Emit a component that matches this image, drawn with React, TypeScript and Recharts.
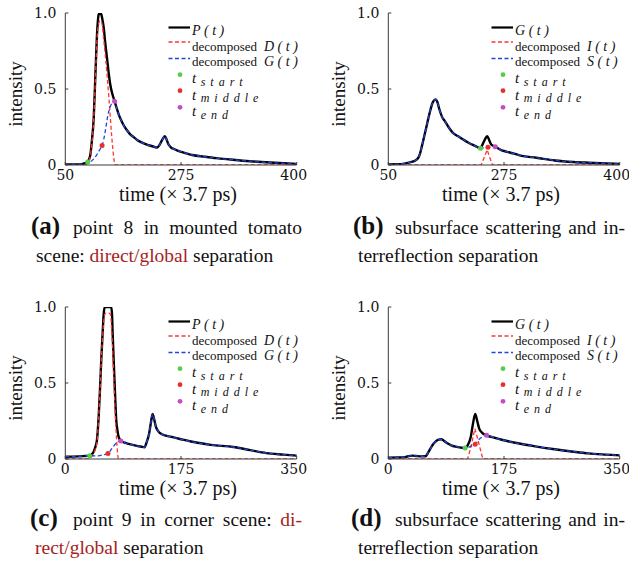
import React from 'react';
import { ComposedChart, Line, Scatter, XAxis, YAxis, Legend } from 'recharts';

// ---- (a) mounted tomato, point 8: direct / global split (time, intensity) ----
const tomatoTotal = [
  [50, 0.004], [65, 0.004], [75, 0.006], [80, 0.012], [84, 0.02], [86, 0.038], [88, 0.07],
  [90, 0.15], [93, 0.31], [95.5, 0.59], [98.5, 0.9], [100.5, 0.99], [102.5, 1.0], [104.5, 0.99],
  [106, 0.96], [108.2, 0.9], [110.5, 0.8], [113.2, 0.7], [115.5, 0.61], [118, 0.53], [121, 0.47],
  [124.5, 0.42], [128, 0.37], [131, 0.33], [135, 0.29], [138.5, 0.26], [143, 0.23], [148.5, 0.2],
  [153, 0.185], [158.6, 0.165], [167, 0.145], [176.3, 0.13], [184, 0.12], [188.9, 0.115],
  [193, 0.135], [196.5, 0.165], [200.6, 0.19], [203, 0.17], [205.6, 0.14], [210, 0.115],
  [214.2, 0.105], [220, 0.095], [226.8, 0.085], [242, 0.066], [260, 0.055], [278, 0.045],
  [300, 0.036], [329, 0.025], [360, 0.016], [400, 0.007],
];
const tomatoDirect = [
  [50, 0], [80, 0], [84, 0.012], [86, 0.03], [88, 0.062], [90, 0.14], [93, 0.3], [95.5, 0.57],
  [98.5, 0.86], [100.5, 0.93], [102.5, 0.95], [104, 0.945], [105.6, 0.93], [108, 0.83],
  [110.5, 0.72], [113.2, 0.59], [116, 0.44], [118.2, 0.31], [120, 0.2], [121.8, 0.11],
  [123.5, 0.04], [125, 0], [400, 0],
];
const tomatoGlobal = [
  [50, 0.004], [70, 0.005], [80, 0.008], [84, 0.016], [88, 0.022], [93, 0.04], [98, 0.07],
  [102, 0.1], [105.6, 0.128], [108.2, 0.17], [111.5, 0.25], [114.5, 0.33], [117, 0.37],
  [119.5, 0.4], [124.5, 0.42], [128, 0.37], [131, 0.33], [135, 0.29], [138.5, 0.26], [143, 0.23],
  [148.5, 0.2], [153, 0.185], [158.6, 0.165], [167, 0.145], [176.3, 0.13], [184, 0.12],
  [188.9, 0.115], [193, 0.135], [196.5, 0.165], [200.6, 0.19], [203, 0.17], [205.6, 0.14],
  [210, 0.115], [214.2, 0.105], [220, 0.095], [226.8, 0.085], [242, 0.066], [260, 0.055],
  [278, 0.045], [300, 0.036], [329, 0.025], [360, 0.016], [400, 0.007],
];
const tomatoMarkers = [[84, 0.02], [105.6, 0.128], [124.5, 0.42]];

// ---- (b) tomato global part: subsurface / interreflection split ----
const tomatoGlobalTotal = [
  [50, 0.004], [65, 0.005], [76, 0.011], [85, 0.02], [91, 0.03], [95, 0.045], [98, 0.075],
  [101.7, 0.14], [105.5, 0.21], [109.4, 0.285], [113, 0.35], [117, 0.41], [120, 0.428],
  [122, 0.432], [124.5, 0.41], [127, 0.37], [131, 0.32], [136, 0.285], [141, 0.25],
  [147.4, 0.213], [155, 0.19], [162.6, 0.169], [170, 0.15], [177.9, 0.132], [184, 0.12],
  [189.4, 0.11], [192, 0.13], [194.6, 0.155], [197, 0.175], [199.6, 0.19], [202.5, 0.165],
  [205.7, 0.135], [211.8, 0.12], [220, 0.1], [228.5, 0.088], [240, 0.075], [250, 0.062],
  [274, 0.048], [302, 0.03], [330, 0.02], [353, 0.015], [380, 0.01], [400, 0.007],
];
const tomatoInter = [[50, 0], [190.5, 0], [195, 0.05], [199.5, 0.1], [203, 0.055], [207.5, 0], [400, 0]];
const tomatoSub = [
  [50, 0.004], [65, 0.005], [76, 0.011], [85, 0.02], [91, 0.03], [95, 0.045], [98, 0.075],
  [101.7, 0.14], [105.5, 0.21], [109.4, 0.285], [113, 0.35], [117, 0.41], [120, 0.428],
  [122, 0.432], [124.5, 0.41], [127, 0.37], [131, 0.32], [136, 0.285], [141, 0.25],
  [147.4, 0.213], [155, 0.19], [162.6, 0.169], [170, 0.15], [177.9, 0.132], [184, 0.12],
  [189.4, 0.11], [194, 0.113], [200.7, 0.116], [206, 0.118], [211.8, 0.12], [220, 0.1],
  [228.5, 0.088], [240, 0.075], [250, 0.062], [274, 0.048], [302, 0.03], [330, 0.02],
  [353, 0.015], [380, 0.01], [400, 0.007],
];
const tomatoGlobalMarkers = [[189.4, 0.11], [200.7, 0.116], [211.8, 0.12]];

// ---- (c) corner scene, point 9: direct / global split ----
const cornerTotal = [
  [0, 0.015], [20, 0.017], [30, 0.02], [36.8, 0.022], [40, 0.03], [42.9, 0.048], [45.5, 0.08],
  [47.9, 0.125], [50.5, 0.28], [52.9, 0.5], [54.7, 0.68], [56.5, 0.83], [58, 0.95], [59.5, 1.0],
  [64, 1.0], [69.5, 1.0], [70.7, 0.95], [71.6, 0.83], [73.1, 0.66], [74.6, 0.5], [75.8, 0.37],
  [77, 0.26], [78.8, 0.19], [80.6, 0.147], [84.1, 0.119], [90, 0.107], [95.7, 0.099],
  [108.3, 0.086], [114, 0.082], [119.9, 0.077], [123, 0.11], [126.9, 0.17], [129.5, 0.24],
  [132, 0.297], [134.5, 0.26], [137, 0.213], [141, 0.18], [146.1, 0.163], [161, 0.145],
  [175, 0.13], [190, 0.115], [203, 0.105], [220, 0.093], [254, 0.079], [280, 0.058],
  [304, 0.039], [330, 0.029], [350, 0.022],
];
const cornerDirect = [
  [0, 0], [35, 0], [40, 0.015], [42.9, 0.035], [45.5, 0.065], [47.9, 0.11], [50.5, 0.27],
  [52.9, 0.49], [54.7, 0.67], [56.5, 0.81], [58.5, 0.92], [61, 0.96], [66, 0.96], [68.5, 0.95],
  [70, 0.86], [71.6, 0.72], [73.1, 0.55], [74.6, 0.39], [75.8, 0.27], [77, 0.17], [78.3, 0.08],
  [79.5, 0.02], [80.5, 0], [350, 0],
];
const cornerGlobal = [
  [0, 0.015], [20, 0.017], [30, 0.02], [36.8, 0.022], [45, 0.021], [50.4, 0.021], [55, 0.025],
  [60.4, 0.03], [64.5, 0.037], [67.5, 0.05], [70.5, 0.07], [74, 0.09], [77.5, 0.108],
  [84.1, 0.119], [90, 0.107], [95.7, 0.099], [108.3, 0.086], [114, 0.082], [119.9, 0.077],
  [123, 0.11], [126.9, 0.17], [129.5, 0.24], [132, 0.297], [134.5, 0.26], [137, 0.213],
  [141, 0.18], [146.1, 0.163], [161, 0.145], [175, 0.13], [190, 0.115], [203, 0.105],
  [220, 0.093], [254, 0.079], [280, 0.058], [304, 0.039], [330, 0.029], [350, 0.022],
];
const cornerMarkers = [[36.8, 0.022], [64.5, 0.037], [84.1, 0.119]];

// ---- (d) corner global part: subsurface / interreflection split ----
const cornerGlobalTotal = [
  [0, 0.009], [15, 0.01], [25, 0.012], [30, 0.018], [36, 0.022], [42, 0.02], [50, 0.017],
  [56.3, 0.018], [60, 0.04], [63.9, 0.07], [67.5, 0.095], [71.5, 0.114], [76, 0.127],
  [80.2, 0.13], [84, 0.12], [89.3, 0.103], [95, 0.09], [102, 0.081], [110, 0.075],
  [116.2, 0.072], [120, 0.09], [124.8, 0.147], [128, 0.23], [131.4, 0.296], [134.5, 0.25],
  [137.5, 0.2], [142, 0.172], [148.7, 0.156], [160, 0.14], [173, 0.125], [200, 0.1],
  [220, 0.085], [251.6, 0.064], [280, 0.048], [302.4, 0.037], [330, 0.029], [350, 0.024],
];
const cornerInter = [[0, 0], [120, 0], [125, 0.08], [131, 0.2], [136.5, 0.11], [143, 0], [350, 0]];
const cornerSub = [
  [0, 0.009], [15, 0.01], [25, 0.012], [30, 0.018], [36, 0.022], [42, 0.02], [50, 0.017],
  [56.3, 0.018], [60, 0.04], [63.9, 0.07], [67.5, 0.095], [71.5, 0.114], [76, 0.127],
  [80.2, 0.13], [84, 0.12], [89.3, 0.103], [95, 0.09], [102, 0.081], [110, 0.075],
  [116.2, 0.072], [122, 0.078], [127, 0.088], [131.4, 0.097], [134, 0.11], [137.5, 0.13],
  [142, 0.145], [148.7, 0.156], [160, 0.14], [173, 0.125], [200, 0.1], [220, 0.085],
  [251.6, 0.064], [280, 0.048], [302.4, 0.037], [330, 0.029], [350, 0.024],
];
const cornerGlobalMarkers = [[116.2, 0.072], [131.4, 0.097], [148.7, 0.156]];

// ---- axes ----
const tomatoXTicks = [50, 225, 400];
const tomatoXTickLabels = ['50', '275', '400'];
const cornerXTicks = [0, 175, 350];
const cornerXTickLabels = ['0', '175', '350'];
const yTicks = [0, 0.5, 1];
const yTickLabels = ['0', '0.5', '1.0'];
const markerNames = ['start', 'middle', 'end'];

const AXIS = '#3a3a3a';
const RED = '#ff3535';
const BLUE = '#2444e2';
const MARKER_COLORS = ['#55cf4a', '#e8302b', '#c24dc4'];
const SERIF = '"Liberation Serif", "Times New Roman", serif';
const TICK_FONT = '"DejaVu Serif", serif';
const CAPTION_RED = '#a5231d';

const CHART_W = 320;
const CHART_H = 215;
const MARGIN = { top: 13, right: 23.3, bottom: 15, left: 0 };
const Y_AXIS_W = 65.3;
const X_AXIS_H = 35;

type Row = number[];
const toPts = (rows: Row[]) => rows.map(([t, v]) => ({ t, v }));

function XTick(props: any) {
  const { x, y, payload, ticks, labels } = props;
  const i = ticks.indexOf(payload.value);
  // the last label is nudged inward so it stays inside the page edge
  const dx = i === ticks.length - 1 ? -3 : 0;
  return (
    <g>
      <line x1={x} x2={x} y1={y} y2={y - 3} stroke={AXIS} strokeWidth={1} />
      <text x={x + dx} y={y + 15} textAnchor="middle" fontFamily={TICK_FONT} fontSize={14} fill="#111">
        {labels[i]}
      </text>
    </g>
  );
}

function YTick(props: any) {
  const { x, y, payload } = props;
  const i = yTicks.indexOf(payload.value);
  return (
    <g>
      <line x1={x} x2={x + 3} y1={y} y2={y} stroke={AXIS} strokeWidth={1} />
      <text x={x - 9} y={y + 5} textAnchor="end" fontFamily={TICK_FONT} fontSize={14} fill="#111">
        {yTickLabels[i]}
      </text>
    </g>
  );
}

const xTitle = (props: any) => {
  const vb = props.viewBox || {};
  const bx = vb.x ?? Y_AXIS_W;
  const bw = vb.width ?? 231;
  const by = vb.y ?? 165;
  return (
    <text x={bx + bw / 2 - 3} y={by + 36} textAnchor="middle" fontFamily={SERIF} fontSize={20} fill="#111">
      time (× 3.7 ps)
    </text>
  );
};

const yTitle = (props: any) => {
  const vb = props.viewBox || {};
  const top = vb.y ?? MARGIN.top;
  const h = vb.height ?? 152;
  const cx = 21.5;
  const cy = top + h / 2 + 5;
  return (
    <text x={cx} y={cy} transform={`rotate(-90 ${cx} ${cy})`} textAnchor="middle" fontFamily={SERIF} fontSize={19} fill="#111">
      intensity
    </text>
  );
};

const LEG_X = 160;
const LEG_Y = 15;

function LegendBox({ names }: { names: string[] }) {
  const mathStyle = { fontFamily: SERIF, fontStyle: 'italic' as const, fontSize: 14, letterSpacing: 3.5 };
  const lineRows = [
    { y: 27.5, stroke: '#000', dash: undefined, w: 2.2 },
    { y: 42, stroke: RED, dash: '4 2.5', w: 1.3 },
    { y: 58.5, stroke: BLUE, dash: '4 2.5', w: 1.3 },
  ];
  const dotRows = [74.7, 90.7, 107.3];
  const mainBase = [83, 99.5, 116];
  return (
    <svg width={165} height={112} style={{ display: 'block', overflow: 'visible' }}>
      <g transform={`translate(${-LEG_X},${-LEG_Y})`}>
        {lineRows.map((r, i) => (
          <line key={i} x1={168.5} x2={190} y1={r.y} y2={r.y} stroke={r.stroke} strokeWidth={r.w} strokeDasharray={r.dash} />
        ))}
        <text x={192} y={34.5} {...mathStyle} fill="#111">{names[0]}(t)</text>
        <text x={192} y={50.5} fill="#111">
          <tspan fontFamily={SERIF} fontSize={13}>decomposed</tspan>
          <tspan dx={7} {...mathStyle}>{names[1]}(t)</tspan>
        </text>
        <text x={192} y={66} fill="#111">
          <tspan fontFamily={SERIF} fontSize={13}>decomposed</tspan>
          <tspan dx={7} {...mathStyle}>{names[2]}(t)</tspan>
        </text>
        {dotRows.map((y, i) => (
          <circle key={i} cx={180} cy={y} r={2.4} fill={MARKER_COLORS[i]} />
        ))}
        {markerNames.map((m, i) => (
          <text key={m} x={192} y={mainBase[i]} fill="#111" fontFamily={SERIF} fontStyle="italic" fontSize={15}>
            t
            <tspan dx={4.5} dy={2.5} fontSize={12} letterSpacing={5}>{m}</tspan>
          </text>
        ))}
      </g>
    </svg>
  );
}

type PanelProps = {
  left: number;
  top: number;
  xDomain: number[];
  xTicks: number[];
  xTickLabels: string[];
  total: Row[];
  first: Row[];
  second: Row[];
  markers: Row[];
  names: string[];
  firstLinear?: boolean;
};

function Panel(p: PanelProps) {
  return (
    <div style={{ position: 'absolute', left: p.left, top: p.top }}>
      <ComposedChart width={CHART_W} height={CHART_H} margin={MARGIN}>
        <XAxis
          type="number"
          dataKey="t"
          domain={p.xDomain}
          ticks={p.xTicks}
          interval={0}
          allowDataOverflow
          height={X_AXIS_H}
          axisLine={{ stroke: AXIS, strokeWidth: 1 }}
          tickLine={false}
          tickSize={0}
          tickMargin={0}
          tick={(tp: any) => <XTick {...tp} ticks={p.xTicks} labels={p.xTickLabels} />}
          label={xTitle}
        />
        <YAxis
          type="number"
          domain={[0, 1]}
          ticks={yTicks}
          interval={0}
          allowDataOverflow
          width={Y_AXIS_W}
          axisLine={{ stroke: AXIS, strokeWidth: 1 }}
          tickLine={false}
          tickSize={0}
          tickMargin={0}
          tick={(tp: any) => <YTick {...tp} />}
          label={yTitle}
        />
        <Legend
          layout="vertical"
          align="center"
          verticalAlign="middle"
          width={165}
          height={112}
          wrapperStyle={{ left: LEG_X, top: LEG_Y, width: 165, height: 112, margin: 0, padding: 0 }}
          content={() => <LegendBox names={p.names} />}
        />
        <Line
          data={toPts(p.total)}
          dataKey="v"
          type="monotone"
          stroke="#000"
          strokeWidth={2.4}
          dot={false}
          activeDot={false}
          isAnimationActive={false}
        />
        <Line
          data={toPts(p.first)}
          dataKey="v"
          type={p.firstLinear ? 'linear' : 'monotone'}
          stroke={RED}
          strokeWidth={1.3}
          strokeDasharray="4 2.5"
          dot={false}
          activeDot={false}
          isAnimationActive={false}
        />
        <Line
          data={toPts(p.second)}
          dataKey="v"
          type="monotone"
          stroke={BLUE}
          strokeWidth={1.3}
          strokeDasharray="4 2.5"
          dot={false}
          activeDot={false}
          isAnimationActive={false}
        />
        <Scatter
          data={toPts(p.markers)}
          dataKey="v"
          isAnimationActive={false}
          shape={(sp: any) => (
            <circle cx={sp.cx} cy={sp.cy} r={2.5} fill={MARKER_COLORS[sp.index ?? 0]} />
          )}
        />
      </ComposedChart>
    </div>
  );
}

const CAP_FS = 19.5;
const LABEL_FS = 25;

function Caption({ tag, x, textX, textRight, line2X, base1, line1, line2 }: any) {
  return (
    <>
      <div
        style={{
          position: 'absolute', left: x, top: base1 - 0.8375 * LABEL_FS, fontFamily: SERIF,
          fontSize: LABEL_FS, fontWeight: 'bold', lineHeight: `${LABEL_FS}px`, color: '#111', whiteSpace: 'nowrap',
        }}
      >
        ({tag})
      </div>
      <div
        style={{
          position: 'absolute', left: textX, width: textRight - textX, top: base1 - 0.8375 * CAP_FS,
          fontFamily: SERIF, fontSize: CAP_FS, lineHeight: `${CAP_FS}px`, color: '#111',
          textAlign: 'justify', textAlignLast: 'justify',
        }}
      >
        {line1}
      </div>
      <div
        style={{
          position: 'absolute', left: line2X, top: base1 + 28 - 0.8375 * CAP_FS, fontFamily: SERIF,
          fontSize: CAP_FS, lineHeight: `${CAP_FS}px`, color: '#111', whiteSpace: 'nowrap',
        }}
      >
        {line2}
      </div>
    </>
  );
}

export default function App() {
  const red = (s: string) => <span style={{ color: CAPTION_RED }}>{s}</span>;
  return (
    <div
      style={{
        position: 'fixed', left: 0, top: 0, width: 629, height: 564, background: '#fff', overflow: 'hidden',
      }}
    >
      <Panel left={0} top={0} xDomain={[50, 400]} xTicks={tomatoXTicks} xTickLabels={tomatoXTickLabels}
        total={tomatoTotal} first={tomatoDirect} second={tomatoGlobal} markers={tomatoMarkers} names={['P', 'D', 'G']} />
      <Panel left={322.6} top={0} xDomain={[50, 400]} xTicks={tomatoXTicks} xTickLabels={tomatoXTickLabels}
        total={tomatoGlobalTotal} first={tomatoInter} second={tomatoSub} markers={tomatoGlobalMarkers}
        names={['G', 'I', 'S']} firstLinear />
      <Panel left={0} top={294} xDomain={[0, 350]} xTicks={cornerXTicks} xTickLabels={cornerXTickLabels}
        total={cornerTotal} first={cornerDirect} second={cornerGlobal} markers={cornerMarkers} names={['P', 'D', 'G']} />
      <Panel left={322.6} top={294} xDomain={[0, 350]} xTicks={cornerXTicks} xTickLabels={cornerXTickLabels}
        total={cornerGlobalTotal} first={cornerInter} second={cornerSub} markers={cornerGlobalMarkers}
        names={['G', 'I', 'S']} firstLinear />

      <Caption tag="a" x={31} textX={73} textRight={302} line2X={36} base1={234}
        line1={<>point 8 in mounted tomato</>}
        line2={<>scene: {red('direct/global')} separation</>} />
      <Caption tag="b" x={353} textX={395} textRight={625} line2X={358} base1={234}
        line1={<>subsurface scattering and in-</>}
        line2={<>terreflection separation</>} />
      <Caption tag="c" x={30} textX={73} textRight={302} line2X={35} base1={526}
        line1={<>point 9 in corner scene: {red('di-')}</>}
        line2={<>{red('rect/global')} separation</>} />
      <Caption tag="d" x={351} textX={395} textRight={625} line2X={358} base1={526}
        line1={<>subsurface scattering and in-</>}
        line2={<>terreflection separation</>} />
    </div>
  );
}
